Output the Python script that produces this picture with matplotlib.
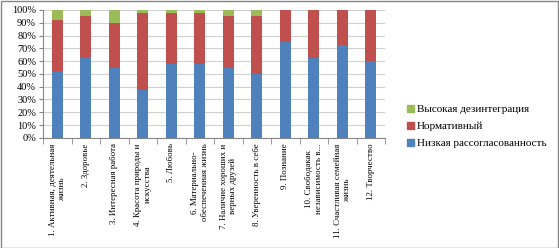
import matplotlib.pyplot as plt
import numpy as np
from matplotlib.patches import Patch

plt.rcParams['font.family'] = ['Liberation Serif', 'DejaVu Serif']

categories = ["1. Активная, деятельная\nжизнь", "2. Здоровье", "3. Интересная работа",
              "4. Красота природы и\nискусства", "5. Любовь", "6. Материально-\nобеспеченная жизнь",
              "7. Наличие хороших и\nверных друзей", "8. Уверенность в себе", "9. Познание",
              "10. Свободакак\nнезависимость в...", "11. Счастливая семейная\nжизнь", "12. Творчество"]
low = [52.5, 62.5, 55, 37.5, 57.5, 57.5, 55, 50, 75, 62.5, 72.5, 60]
norm = [40, 32.5, 35, 60, 40, 40, 40, 45, 25, 37.5, 27.5, 40]
high = [7.5, 5, 10, 2.5, 2.5, 2.5, 5, 5, 0, 0, 0, 0]
names = ["Низкая рассогласованность", "Нормативный", "Высокая дезинтеграция"]
colors = ["#4F81BD", "#C0504D", "#9BBB59"]

fig = plt.figure(figsize=(5.59, 2.48), dpi=100)
ax = fig.add_axes([0.077, 0.444, 0.612, 0.516])
x = np.arange(len(categories))
w = 0.39
ax.bar(x, low, w, color=colors[0], zorder=3)
ax.bar(x, norm, w, bottom=low, color=colors[1], zorder=3)
ax.bar(x, high, w, bottom=np.array(low) + np.array(norm), color=colors[2], zorder=3)

ax.set_xlim(-0.5, len(categories) - 0.5)
ax.set_ylim(0, 100)
ax.set_yticks(range(0, 101, 10))
ax.set_yticklabels([f"{v}%" for v in range(0, 101, 10)], fontsize=7.5)
ax.yaxis.grid(True, color="#D0D0D0", linewidth=0.8, zorder=0)
ax.set_xticks(x)
ax.set_xticklabels(categories, rotation=90, fontsize=6.4, linespacing=1.25)
ax.set_xticks(np.arange(-0.5, len(categories)), minor=True)
ax.tick_params(axis='x', which='major', length=0, pad=4)
ax.tick_params(axis='x', which='minor', length=4, color="#868686", direction='out')
ax.tick_params(axis='y', length=3, color="#868686", pad=2)
for s in ['top', 'right']:
    ax.spines[s].set_visible(False)
for s in ['left', 'bottom']:
    ax.spines[s].set_color("#868686")

handles = [Patch(color=colors[i]) for i in [2, 1, 0]]
fig.legend(handles, [names[i] for i in [2, 1, 0]], loc='center left', bbox_to_anchor=(0.71, 0.49),
           frameon=False, fontsize=8, handlelength=0.6, handleheight=0.6, handletextpad=0.3,
           labelspacing=0.7)

fig.add_artist(plt.Rectangle((0.001, 0.002), 0.997, 0.995, transform=fig.transFigure,
                             fill=False, edgecolor="#868686", linewidth=1))
fig.savefig("out.png", dpi=100)
